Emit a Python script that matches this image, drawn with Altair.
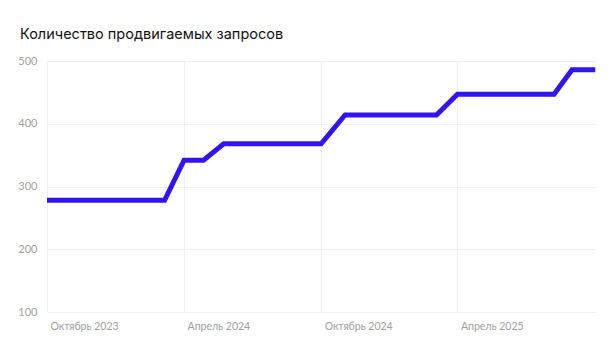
import altair as alt
import pandas as pd

dates = ["2023-10-01", "2024-03-06", "2024-04-01", "2024-04-27", "2024-05-24",
         "2024-10-01", "2024-11-02", "2025-03-04", "2025-04-01", "2025-08-08",
         "2025-09-01", "2025-10-02"]
values = [278, 278, 342, 342, 368, 368, 414, 414, 447, 447, 486, 486]
y_ticks = [100, 200, 300, 400, 500]
month_names = ["Январь", "Февраль", "Март", "Апрель", "Май", "Июнь", "Июль",
               "Август", "Сентябрь", "Октябрь", "Ноябрь", "Декабрь"]
title_text = "Количество продвигаемых запросов"

df = pd.DataFrame({"date": dates, "value": values})

x_ticks = [alt.DateTime(year=2023, month=10, date=1, utc=True),
           alt.DateTime(year=2024, month=4, date=1, utc=True),
           alt.DateTime(year=2024, month=10, date=1, utc=True),
           alt.DateTime(year=2025, month=4, date=1, utc=True)]

label_expr = "[" + ",".join("'%s'" % m for m in month_names) + "][utcmonth(datum.value)] + ' ' + utcyear(datum.value)"

chart = alt.Chart(df).mark_line(
    color="#3214F0", strokeWidth=5, strokeJoin="miter", clip=True
).encode(
    x=alt.X("date:T",
            scale=alt.Scale(type="utc",
                            domain=[alt.DateTime(year=2023, month=10, date=1, utc=True),
                                    alt.DateTime(year=2025, month=10, date=3, utc=True)]),
            axis=alt.Axis(title=None, values=x_ticks, labelExpr=label_expr,
                          domain=False, ticks=False, grid=True, gridColor="#f0f0f0",
                          labelAlign="left", labelPadding=9, labelColor="#a0a0a0",
                          labelFontSize=10.5, labelFont="Lato", labelOffset=3)),
    y=alt.Y("value:Q",
            scale=alt.Scale(domain=[100, 500], nice=False, zero=False),
            axis=alt.Axis(title=None, values=y_ticks, domain=False, ticks=False,
                          grid=True, gridColor="#f0f0f0", labelPadding=10,
                          labelColor="#a0a0a0", labelFontSize=11, labelFont="Lato"))
).properties(
    width=549, height=251,
    autosize=alt.AutoSizeParams(type="none"),
    padding={"left": 39, "top": 53, "right": 12, "bottom": 40},
    title=alt.TitleParams(title_text, anchor="start", frame="group", dx=-27, offset=13,
                          fontSize=14.5, fontWeight="normal", font="Inter", color="#111111")
).configure_view(stroke=None)

chart.save("out.html", embed_options={"renderer": "svg", "actions": False})
